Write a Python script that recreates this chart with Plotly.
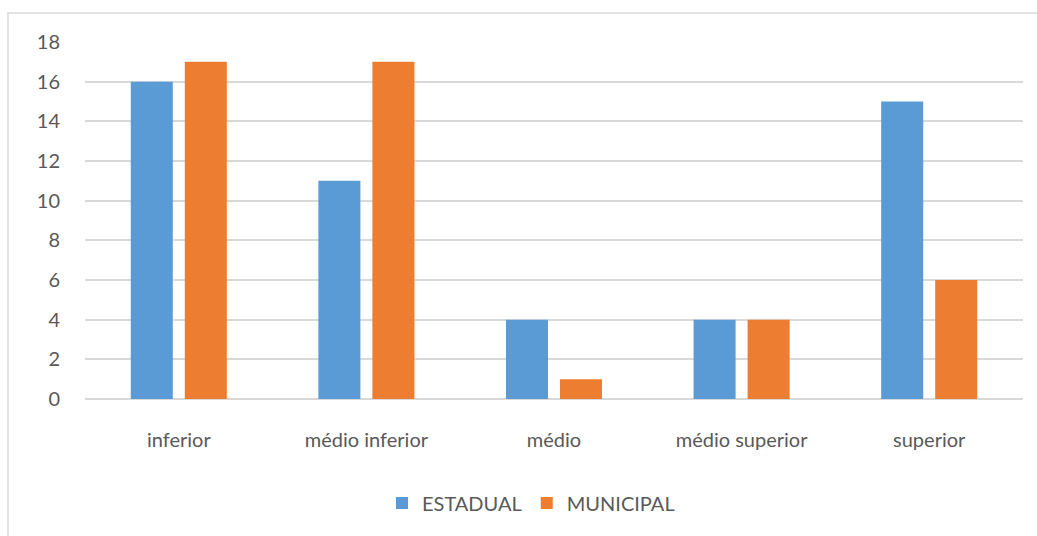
import plotly.graph_objects as go

categories = ["inferior", "médio inferior", "médio", "médio superior", "superior"]
estadual = [16, 11, 4, 4, 15]
municipal = [17, 17, 1, 4, 6]
y_ticks = [0, 2, 4, 6, 8, 10, 12, 14, 16, 18]

W, H = 1037, 536
L, R, T, B = 85, 1023, 42, 399
pw, ph = R - L, B - T

fig = go.Figure()
fig.add_trace(go.Bar(name="ESTADUAL", x=categories, y=estadual,
                     marker=dict(color="#5B9BD5", line=dict(width=0))))
fig.add_trace(go.Bar(name="MUNICIPAL", x=categories, y=municipal,
                     marker=dict(color="#ED7D31", line=dict(width=0))))

font_family = "Lato, 'Open Sans', sans-serif"
FS = 20
fig.update_layout(
    width=W, height=H,
    margin=dict(l=L, r=W - R, t=T, b=H - B, pad=0),
    paper_bgcolor="white", plot_bgcolor="white",
    barmode="group", bargap=0.424, bargroupgap=0.222,
    font=dict(family=font_family, size=FS, color="#595959"),
    showlegend=True,
    legend=dict(orientation="h", x=0.5 - 23 / pw, xanchor="center",
                y=(B - 503) / ph, yanchor="middle",
                font=dict(size=FS, color="#595959"),
                itemsizing="constant", traceorder="normal",
                itemwidth=30),
    xaxis=dict(showgrid=False, showline=False, zeroline=False,
               ticks="", ticklabelstandoff=27,
               tickfont=dict(size=FS, color="#595959")),
    yaxis=dict(range=[0, 18], tickvals=y_ticks, showgrid=True,
               gridcolor="#D9D9D9", gridwidth=1.5, zeroline=True,
               zerolinecolor="#D9D9D9", zerolinewidth=1.5,
               showline=False, ticks="", ticklabelstandoff=24,
               tickfont=dict(size=FS, color="#595959")),
)

# chart area border (Excel-like)
fig.add_shape(type="rect", xref="paper", yref="paper",
              x0=(8 - L) / pw, x1=(W + 10 - L) / pw,
              y0=(B - (H + 10)) / ph, y1=1 + (T - 13) / ph,
              line=dict(color="#D9D9D9", width=1.5), layer="below")

fig.write_html("out.html", config={"displayModeBar": False},
               post_script="document.body.style.margin='0';document.body.style.overflow='hidden';")
